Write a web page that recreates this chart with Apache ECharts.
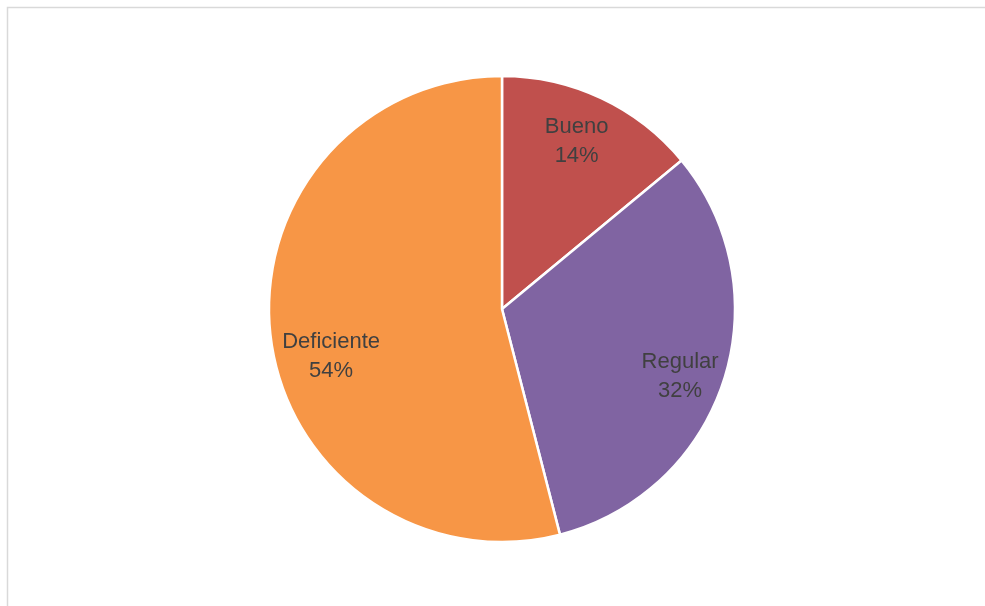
<!DOCTYPE html>
<html>
<head>
<meta charset="utf-8">
<script src="https://cdn.jsdelivr.net/npm/echarts@6/dist/echarts.min.js"></script>
<style>
  html, body { margin: 0; padding: 0; background: #ffffff; }
  #chart { width: 985px; height: 606px; }
</style>
</head>
<body>
<div id="chart"></div>
<script>
// Rating categories and their shares (percent)
const categories = ['Bueno', 'Regular', 'Deficiente'];
const shares = [14, 32, 54];
const colors = ['#C0504D', '#8064A2', '#F79646'];

const chart = echarts.init(document.getElementById('chart'));

const R = 233;
const center = [502, 309];

const sliceData = categories.map((name, i) => ({
  name: name,
  value: shares[i],
  itemStyle: { color: colors[i] }
}));

// Transparent ring used only to place the labels at ~80% of the radius
const labelNudge = { Bueno: [-6, 4], Regular: [-2, 9], Deficiente: [17, 24] };
const labelData = categories.map((name, i) => ({
  name: name,
  value: shares[i],
  label: { offset: labelNudge[name] }
}));

chart.setOption({
  backgroundColor: '#ffffff',
  animation: false,
  graphic: [{
    type: 'rect',
    shape: { x: 7.5, y: 7.5, width: 1000, height: 700 },
    style: { fill: 'none', stroke: '#d9d9d9', lineWidth: 1.5 },
    silent: true
  }],
  series: [
    {
      type: 'pie',
      center: center,
      radius: [0, R],
      startAngle: 90,
      clockwise: true,
      data: sliceData,
      itemStyle: { borderColor: '#ffffff', borderWidth: 2.5 },
      label: { show: false },
      labelLine: { show: false },
      emphasis: { disabled: true }
    },
    {
      type: 'pie',
      center: center,
      radius: [R * 0.6, R],
      startAngle: 90,
      clockwise: true,
      data: labelData,
      itemStyle: { color: 'rgba(0,0,0,0)', borderWidth: 0 },
      label: {
        show: true,
        position: 'inside',
        formatter: p => p.name + '\n' + p.value + '%',
        fontFamily: 'Liberation Sans',
        fontSize: 22,
        lineHeight: 29,
        color: '#404040',
        align: 'center'
      },
      labelLine: { show: false },
      emphasis: { disabled: true },
      silent: true,
      z: 3
    }
  ]
});
</script>
</body>
</html>
